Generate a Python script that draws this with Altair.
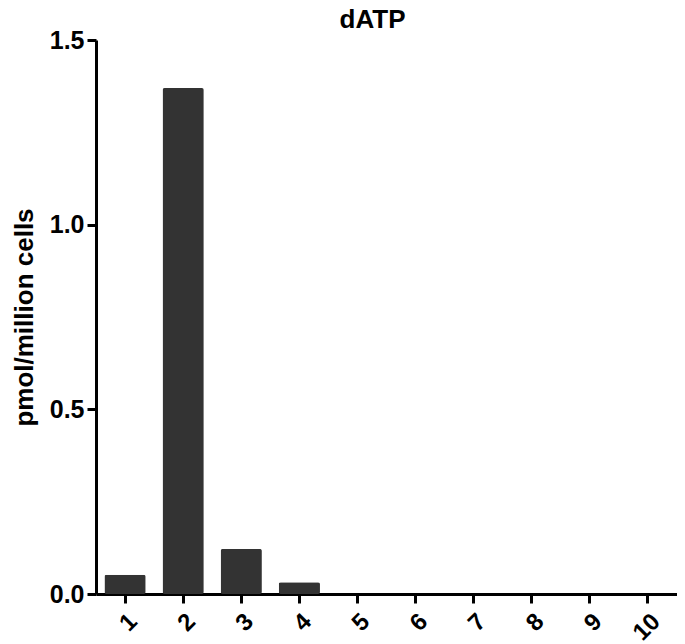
import altair as alt
import pandas as pd

categories = ["1", "2", "3", "4", "5", "6", "7", "8", "9", "10"]
values = [0.052, 1.37, 0.122, 0.032, 0, 0, 0, 0, 0, 0]

df = pd.DataFrame({"group": categories, "value": values})

FONT = "Liberation Sans"

chart = alt.Chart(df).mark_bar(
    color="#333333", cornerRadius=2
).encode(
    x=alt.X("group:N", sort=categories, title=None,
            scale=alt.Scale(paddingInner=0.29, paddingOuter=0.145),
            axis=alt.Axis(labelAngle=-45, labelFontSize=24, labelFontWeight="bold",
                          labelFont=FONT, labelColor="black",
                          domainColor="black", domainWidth=3,
                          tickColor="black", tickWidth=3, tickSize=9,
                          labelPadding=6)),
    y=alt.Y("value:Q", title="pmol/million cells",
            scale=alt.Scale(domain=[0, 1.5], nice=False),
            axis=alt.Axis(values=[0, 0.5, 1.0, 1.5], format=".1f",
                          labelFontSize=25, labelFontWeight="bold", labelFont=FONT,
                          labelColor="black", grid=False,
                          domainColor="black", domainWidth=3,
                          tickColor="black", tickWidth=3, tickSize=9,
                          labelPadding=3,
                          titleFontSize=26, titleFontWeight="bold", titleFont=FONT,
                          titleColor="black", titlePadding=12)),
).properties(
    width=581, height=554,
    title=alt.TitleParams("dATP", fontSize=26, fontWeight="bold", font=FONT,
                          color="black", anchor="middle", frame="group", offset=-5,
                          dx=-14),
    padding={"left": 88, "top": 32, "right": 0, "bottom": 50},
    autosize=alt.AutoSizeParams(type="none"),
).configure_view(stroke=None)

chart.save("out.html", embed_options={"renderer": "svg", "actions": False})
